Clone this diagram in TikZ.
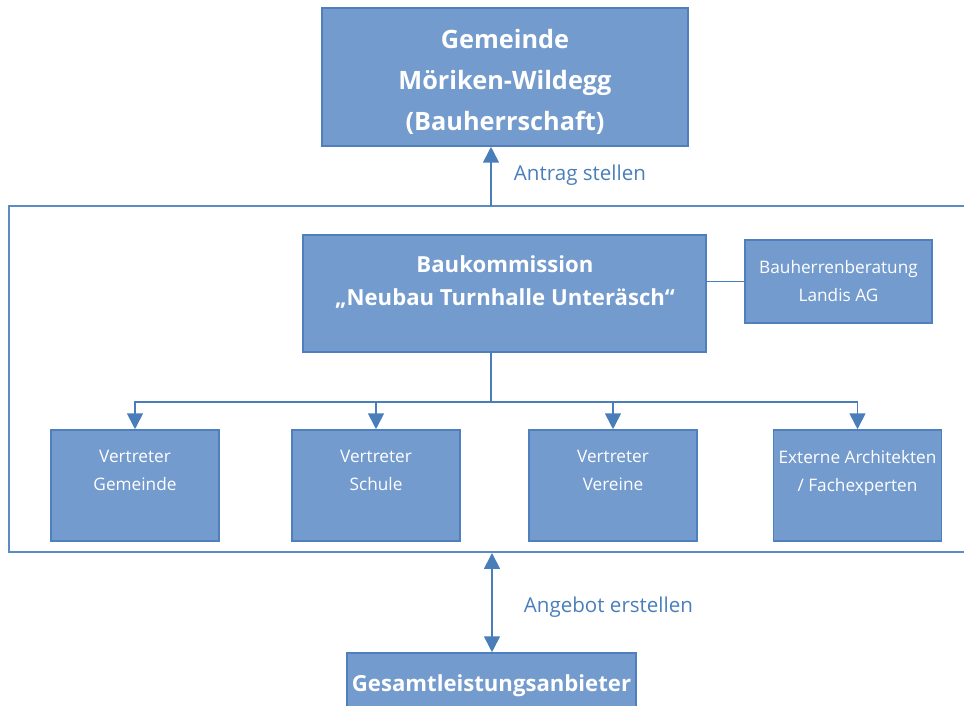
\documentclass[tikz,border=0pt]{standalone}
\usepackage{fontspec}
\setmainfont{Open Sans}
\usetikzlibrary{arrows.meta,positioning,calc}
\definecolor{BoxFill}{HTML}{739BCD}
\definecolor{BoxLine}{HTML}{4F80BD}
\definecolor{Wire}{HTML}{4A7EBB}
\definecolor{Frame}{HTML}{5B8CC6}

\begin{document}
\begin{tikzpicture}[x=0.02cm,y=-0.02cm,
  box/.style={draw=BoxLine,line width=0.9pt,fill=BoxFill,text=white,
    align=center,inner sep=0pt},
  boxtext/.style={text=white,align=center,inner sep=0pt},
  memtext/.style={boxtext,anchor=north,font=\fontsize{9.8}{15.9}\selectfont},
  member/.style={box,minimum width=3.36cm,minimum height=2.22cm},
  note/.style={text=Wire,font=\fontsize{11.7}{14}\selectfont},
  wire/.style={draw=Wire,line width=1pt},
  arrow/.style={wire,-{Triangle[length=9pt,width=9pt]}},
  twoway/.style={wire,{Triangle[length=9pt,width=9pt]}-{Triangle[length=9pt,width=9pt]}}]
  \useasboundingbox (0,0) rectangle (964,706);

  % frame round the commission
  \draw[Frame,line width=1pt] (964,206) -- (9,206) -- (9,552) -- (964,552);
  \coordinate (spine) at (491,0);
  \coordinate (frameTop) at (491,206);
  \coordinate (frameBot) at (492,553);
  \coordinate (bus) at (491,402);

  \node[box,minimum width=7.32cm,minimum height=2.76cm] (gem) at (505,77) {};
  \node[boxtext,font=\bfseries\fontsize{14.4}{23.4}\selectfont] (gemText)
    at (505,82) {Gemeinde\\Möriken-Wildegg\\(Bauherrschaft)};
  \node[note] (antrag) at (580,175) {Antrag stellen};

  \node[box,minimum width=8.06cm,minimum height=2.34cm] (bauk) at (504.5,293.5) {};
  \node[boxtext,font=\bfseries\fontsize{12.6}{19.3}\selectfont] (baukText)
    at (505,282) {Baukommission\\„Neubau Turnhalle Unteräsch“};
  \node[box,minimum width=3.74cm,minimum height=1.66cm,
    font=\fontsize{9.8}{15.9}\selectfont] (berat) at (838.5,281.5)
    {Bauherrenberatung\\Landis AG};

  \node[member] (m1) at (135,485.5) {};
  \node[member] (m2) at (376,485.5) {};
  \node[member] (m3) at (613,485.5) {};
  \node[member] (m4) at (857.5,485.5) {};
  \node[memtext] (m1Text) at (135,450) {Vertreter\\Gemeinde};
  \node[memtext] (m2Text) at (376,450) {Vertreter\\Schule};
  \node[memtext] (m3Text) at (613,450) {Vertreter\\Vereine};
  \node[memtext] (m4Text) at (857.5,450) {Externe Architekten\\/ Fachexperten};

  \node[box,minimum width=5.78cm,minimum height=1.32cm,
    font=\bfseries\fontsize{12.6}{14}\selectfont] (gsa) at (491.5,686)
    {Gesamtleistungsanbieter};
  \node[note] (angebot) at (608.5,607) {Angebot erstellen};

  \draw[arrow] (frameTop) -- (spine |- gem.south);
  \draw[wire] (bauk.east |- berat.west) -- (berat.west);
  \draw[wire] (spine |- bauk.south) -- (bus);
  \foreach \m in {m1,m2,m3,m4}
    \draw[arrow] (bus) -| (\m.north);
  \draw[twoway] (frameBot) -- (frameBot |- gsa.north);
\end{tikzpicture}
\end{document}
